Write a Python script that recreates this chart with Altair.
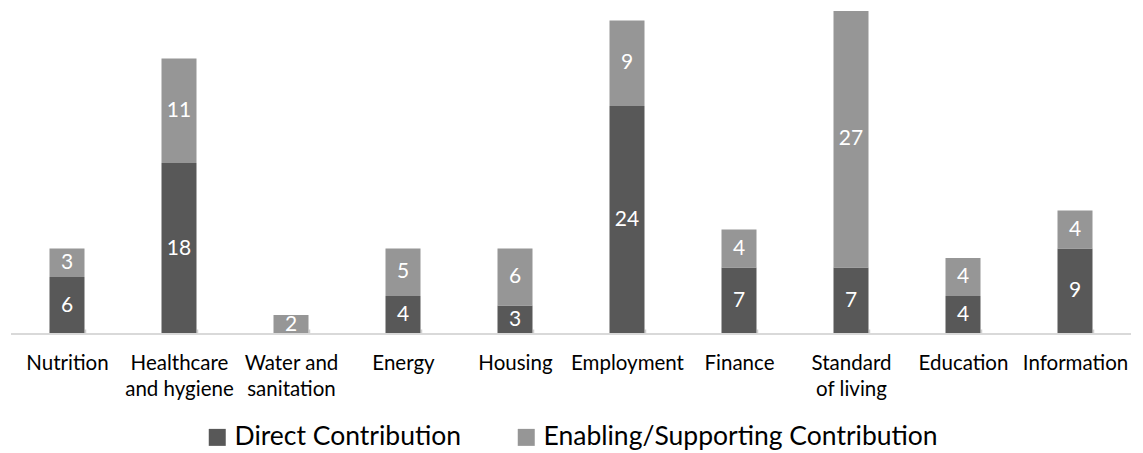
import altair as alt
import pandas as pd

categories = ["Nutrition", "Healthcare|and hygiene", "Water and|sanitation", "Energy",
              "Housing", "Employment", "Finance", "Standard|of living", "Education", "Information"]
direct = [6, 18, 0, 4, 3, 24, 7, 7, 4, 9]
enabling = [3, 11, 2, 5, 6, 9, 4, 27, 4, 4]
series = ["Direct Contribution", "Enabling/Supporting Contribution"]
colors = ["#585858", "#969696"]

rows = []
for c, d, e in zip(categories, direct, enabling):
    rows.append({"cat": c, "series": series[0], "value": d, "ord": 0})
    rows.append({"cat": c, "series": series[1], "value": e, "ord": 1})
df = pd.DataFrame(rows)
df = df[df["value"] > 0]

FONT = "Lato"

x = alt.X("cat:N", sort=categories, title=None,
          scale=alt.Scale(paddingInner=0.6875, paddingOuter=0.34375),
          axis=alt.Axis(labelAngle=0, domain=False, ticks=True, tickBand="extent",
                        tickSize=5, tickColor="#cfcfcf", tickWidth=1.5, offset=-5,
                        labelPadding=19, labelFontSize=20.5, labelFont=FONT,
                        labelColor="#000000", labelLineHeight=26,
                        labelExpr="datum.value ? split(datum.value, '|') : ''"))
yscale = alt.Scale(domain=[0, 34], nice=False)

base = alt.Chart(df).transform_stack(
    stack="value", groupby=["cat"], as_=["y0", "y1"], sort=[alt.SortField("ord")]
).transform_calculate(mid="(datum.y0 + datum.y1) / 2")

bars = base.mark_bar().encode(
    x=x,
    y=alt.Y("y0:Q", scale=yscale, axis=None),
    y2="y1:Q",
    color=alt.Color("series:N", sort=series,
                    scale=alt.Scale(domain=series, range=colors),
                    legend=alt.Legend(title=None, orient="none", direction="horizontal",
                                      legendX=193, legendY=413, padding=0,
                                      symbolType="square", symbolSize=289,
                                      symbolStrokeWidth=0, labelFont=FONT,
                                      labelFontSize=26.5, labelColor="#000000",
                                      labelOffset=4, columnPadding=51,
                                      labelLimit=600)),
)

texts = base.mark_text(color="white", font=FONT, fontSize=21, baseline="middle").encode(
    x=x,
    y=alt.Y("mid:Q", scale=yscale, axis=None),
    text=alt.Text("value:Q"),
)

baseline = alt.Chart(df).mark_rule(color="#d9d9d9", strokeWidth=1.5).encode(
    y=alt.Y(datum=0, scale=yscale, axis=None)
)

chart = alt.layer(bars, baseline, texts).properties(
    width=1120, height=323,
    autosize=alt.AutoSizeParams(type="none"),
    padding={"left": 3, "top": 3, "right": 4, "bottom": 119},
).configure_view(stroke=None)

chart.save("out.html", embed_options={"renderer": "svg", "actions": False})
